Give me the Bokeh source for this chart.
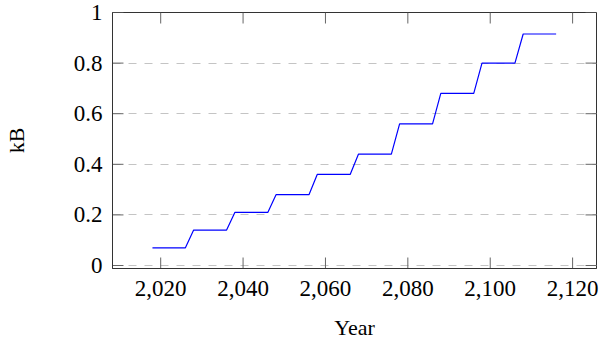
from bokeh.plotting import figure
from bokeh.models import Range1d, FixedTicker
from bokeh.embed import file_html
from bokeh.resources import INLINE

# Data
years = [2018, 2026, 2028, 2036, 2038, 2046, 2048, 2056, 2058, 2066,
         2068, 2076, 2078, 2086, 2088, 2096, 2098, 2106, 2108, 2116]
kb = [0.07, 0.07, 0.14, 0.14, 0.21, 0.21, 0.28, 0.28, 0.36, 0.36,
      0.44, 0.44, 0.56, 0.56, 0.68, 0.68, 0.80, 0.80, 0.915, 0.915]

x_ticks = [2020, 2040, 2060, 2080, 2100, 2120]
x_tick_labels = ["2,020", "2,040", "2,060", "2,080", "2,100", "2,120"]
y_ticks = [0, 0.2, 0.4, 0.6, 0.8, 1]
y_tick_labels = ["0", "0.2", "0.4", "0.6", "0.8", "1"]
x_title = "Year"
y_title = "kB"

FONT = "Liberation Serif"
FRAME = "#333333"
TICK = "#666666"
TICK_LEN = 11  # px

W, H = 599, 343
BL, BR, BT, BB = 111, 3, 12, 75

xr = Range1d(2008.3, 2125.8)
yr = Range1d(-0.0118, 1.0)

p = figure(width=W, height=H, output_backend="svg", toolbar_location=None,
           x_range=xr, y_range=yr,
           min_border_left=BL, min_border_right=BR, min_border_top=BT,
           min_border_bottom=BB, x_axis_label=x_title, y_axis_label=y_title)

p.background_fill_color = "white"
p.border_fill_color = "white"
p.outline_line_color = FRAME
p.outline_line_width = 1

# grid
p.xgrid.grid_line_color = None
p.ygrid.ticker = FixedTicker(ticks=y_ticks)
p.ygrid.grid_line_color = "#c4c4c4"
p.ygrid.grid_line_dash = "8 8"
p.ygrid.grid_line_width = 1

# data line
p.line(years, kb, line_color="#0000ff", line_width=1.2)

# inward ticks on all four sides, tick length converted from pixels to data units
dx = TICK_LEN * (xr.end - xr.start) / (W - BL - BR)
dy = TICK_LEN * (yr.end - yr.start) / (H - BT - BB)
n_x, n_y = len(x_ticks), len(y_ticks)
seg_kw = dict(line_color=TICK, line_width=1)
p.segment(x0=x_ticks, y0=[yr.start] * n_x, x1=x_ticks, y1=[yr.start + dy] * n_x, **seg_kw)
p.segment(x0=x_ticks, y0=[yr.end] * n_x, x1=x_ticks, y1=[yr.end - dy] * n_x, **seg_kw)
p.segment(x0=[xr.start] * n_y, y0=y_ticks, x1=[xr.start + dx] * n_y, y1=y_ticks, **seg_kw)
p.segment(x0=[xr.end] * n_y, y0=y_ticks, x1=[xr.end - dx] * n_y, y1=y_ticks, **seg_kw)


def style_axis(ax, ticks, labels, standoff, label_standoff):
    ax.ticker = FixedTicker(ticks=ticks)
    ax.major_label_overrides = {t: l for t, l in zip(ticks, labels)}
    ax.major_tick_in = 0
    ax.major_tick_out = 0
    ax.minor_tick_in = 0
    ax.minor_tick_out = 0
    ax.axis_line_color = FRAME
    ax.axis_line_width = 1
    ax.major_label_text_font = FONT
    ax.major_label_text_font_size = "23px"
    ax.major_label_text_color = "black"
    ax.major_label_standoff = standoff
    ax.axis_label_text_font = FONT
    ax.axis_label_text_font_size = "22px"
    ax.axis_label_text_font_style = "normal"
    ax.axis_label_text_color = "black"
    ax.axis_label_standoff = label_standoff


style_axis(p.xaxis[0], x_ticks, x_tick_labels, 12, 16)
style_axis(p.yaxis[0], y_ticks, y_tick_labels, 10, 42)

open("out.html", "w").write(file_html(p, INLINE))
